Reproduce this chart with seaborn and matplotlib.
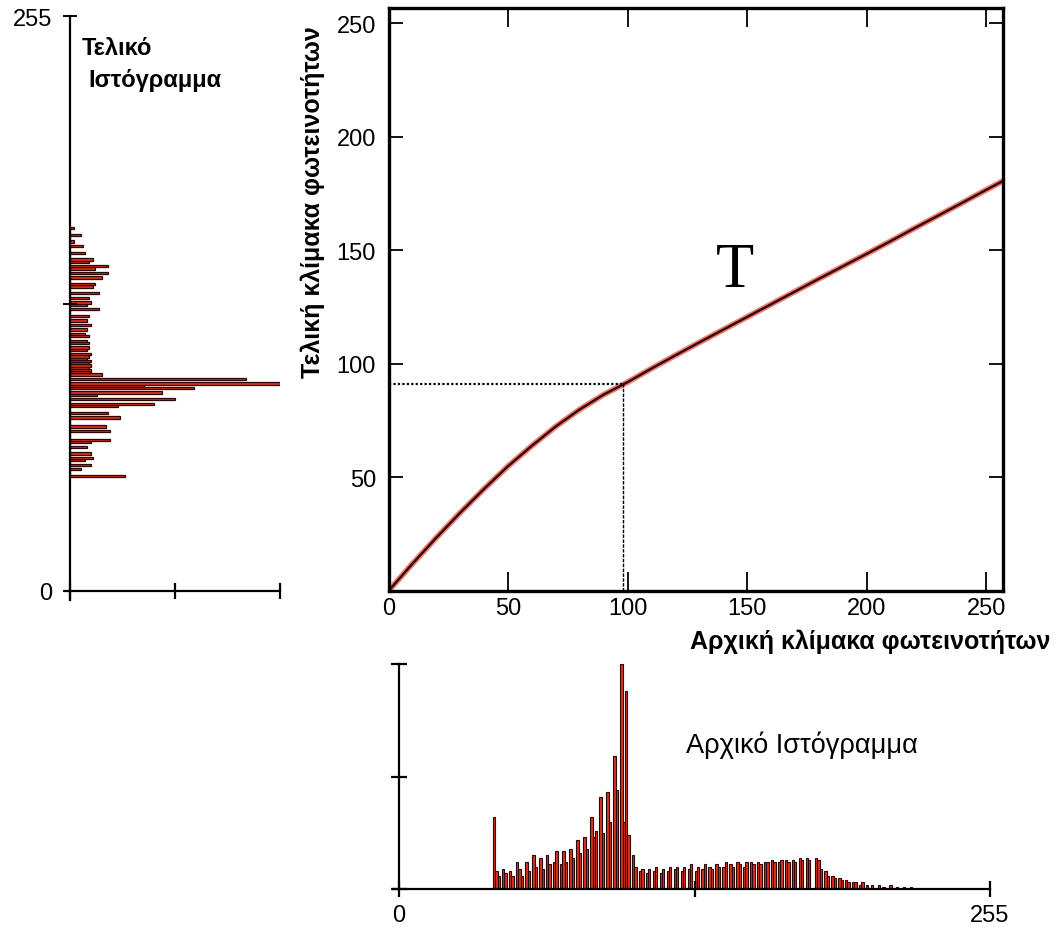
import matplotlib
matplotlib.use("Agg")
import matplotlib.pyplot as plt
import seaborn as sns

plt.rcParams['font.family'] = ['Liberation Sans', 'DejaVu Sans']

# Transfer function T: initial brightness level -> final brightness level
curve_in = [0, 10, 20, 30, 40, 50, 60, 70, 80, 90, 100, 110, 120, 130,
            140, 150, 160, 170, 180, 190, 200, 210, 220, 230, 240, 250, 257]
curve_out = [0, 12, 23.5, 34.5, 45, 55, 64, 72.5, 80, 86.5, 92, 98, 103.8, 109.5,
             115.1, 120.7, 126.3, 131.9, 137.5, 143, 148.5, 154.1, 159.8, 165.4, 171, 176.7, 180.6]

# Example level marked on the curve
ref_in, ref_out = 98, 91

# Initial histogram: counts per brightness level, levels 40..222
initial_levels = list(range(40, 223))
initial_counts = [
    0, 32, 8, 6, 0, 9, 7, 0, 8, 6,         # 40-49
    0, 12, 9, 6, 0, 12, 8, 0, 15, 10,      # 50-59
    0, 14, 9, 0, 15, 11, 0, 12, 17, 0,     # 60-69
    11, 17, 12, 0, 18, 14, 0, 22, 16, 0,   # 70-79
    23, 18, 0, 32, 23, 26, 0, 41, 25, 0,   # 80-89
    43, 30, 0, 59, 44, 0, 100, 30, 88, 24, # 90-99
    0, 15, 10, 0, 8, 9, 0, 7, 9, 0,        # 100-109
    8, 10, 0, 7, 9, 0, 8, 10, 0, 9,        # 110-119
    10, 0, 8, 10, 0, 9, 11, 0, 8, 10,      # 120-129
    0, 9, 11, 0, 10, 9, 0, 11, 10, 0,      # 130-139
    10, 12, 0, 11, 10, 0, 12, 11, 0, 10,   # 140-149
    12, 0, 12, 11, 0, 12, 11, 0, 12, 12,   # 150-159
    0, 13, 12, 0, 12, 13, 0, 13, 12, 0,    # 160-169
    13, 12, 0, 14, 13, 0, 14, 13, 0, 0,    # 170-179
    14, 13, 9, 0, 8, 6, 0, 6, 5, 0,        # 180-189
    5, 4, 0, 4, 3, 0, 3, 3, 0, 2,          # 190-199
    3, 0, 2, 0, 2, 0, 0, 2, 0, 1,          # 200-209
    0, 0, 2, 0, 0, 1, 0, 0, 1, 0,          # 210-219
    0, 1, 0,                               # 220-222
]

# Final histogram: counts per brightness level after applying T
final_levels = [51, 54, 56, 58, 59, 61, 64, 66, 67, 71, 73, 77, 79, 82, 83,
                85, 87, 88, 90, 91, 92, 94, 96, 97, 98, 99, 100, 101, 102, 103,
                104, 105, 107, 108, 110, 111, 113, 114, 116, 118, 120, 122, 125,
                127, 128, 130, 132, 135, 136, 139, 141, 143, 144, 146, 147, 150,
                153, 155, 158, 161]
final_counts = [26, 5, 10, 7, 11, 10, 8, 10, 19, 19, 17, 24, 18, 23, 40,
                50, 13, 44, 59, 35, 100, 84, 15, 10, 10, 9, 10, 9, 10, 8,
                9, 10, 8, 9, 9, 8, 9, 7, 8, 10, 8, 9, 14,
                8, 10, 9, 14, 11, 12, 15, 18, 12, 18, 9, 11, 7,
                6, 2, 5, 2]

main_ticks = [0, 50, 100, 150, 200, 250]
hist_level_ticks = [0, 127.5, 255]
hist_level_labels = ['0', '', '255']
hist_count_ticks = [0, 50, 100]

bar_face = '#d9321f'
bar_edge = '#2e0606'

W, H = 1057, 929
fig = plt.figure(figsize=(W / 100, H / 100), dpi=100)
fig.patch.set_facecolor('white')


def axes_px(left, top, right, bottom):
    return fig.add_axes([left / W, 1 - bottom / H, (right - left) / W, (bottom - top) / H])


# ---- main transfer curve ----
ax = axes_px(388.5, 8.5, 1003, 592)
sns.lineplot(x=curve_in, y=curve_out, ax=ax, color='#e8574a', linewidth=4.2, alpha=0.75)
sns.lineplot(x=curve_in, y=curve_out, ax=ax, color='#3b0a08', linewidth=1.8)
ax.plot([0, ref_in], [ref_out, ref_out], color='black', linestyle=(0, (1, 1)), linewidth=1.6)
ax.plot([ref_in, ref_in], [0, ref_out], color='black', linestyle=(0, (2.5, 1)), linewidth=1.0)
ax.set_xlim(0, 257)
ax.set_ylim(0, 257)
ax.set_xticks(main_ticks)
ax.set_yticks(main_ticks[1:])
for s in ax.spines.values():
    s.set_linewidth(2.4)
    s.set_color('black')
ax.tick_params(axis='x', direction='in', length=14, width=1.3, top=True, pad=4, labelsize=17)
ax.tick_params(axis='y', direction='in', length=10, width=1.3, right=True, pad=9, labelsize=17)
ax.set_xlabel('Αρχική κλίμακα φωτεινοτήτων', fontsize=18, fontweight='bold', va='center')
ax.xaxis.set_label_coords(0.784, -0.086)
ax.set_ylabel('Τελική κλίμακα φωτεινοτήτων', fontsize=18, fontweight='bold', va='center')
ax.yaxis.set_label_coords(-0.124, 0.668)
ax.text(145, 141, 'T', family=['Liberation Serif', 'DejaVu Serif'], fontsize=45,
        ha='center', va='center')

# ---- final histogram (left, horizontal bars) ----
axl = axes_px(70, 17, 280, 592)
sns.histplot(y=final_levels, weights=final_counts, discrete=True, ax=axl,
             color=bar_face, edgecolor=bar_edge, linewidth=0.9, alpha=1)
axl.set_xlim(0, 100)
axl.set_ylim(0, 255)
axl.set_xlabel('')
axl.set_ylabel('')
axl.spines[['top', 'right']].set_visible(False)
axl.spines['left'].set_bounds(-4, 255)
axl.spines['bottom'].set_bounds(-2.4, 100)
for s in ('left', 'bottom'):
    axl.spines[s].set_linewidth(1.6)
axl.set_xticks(hist_count_ticks)
axl.set_xticklabels([])
axl.set_yticks(hist_level_ticks)
axl.set_yticklabels(hist_level_labels)
axl.tick_params(axis='x', direction='inout', length=12, width=1.6)
axl.tick_params(axis='y', direction='inout', length=10, width=1.4, pad=8, labelsize=17)
axl.text(0.057, 0.946, 'Τελικό', transform=axl.transAxes, fontsize=17,
         fontweight='bold', ha='left', va='center')
axl.text(0.086, 0.890, 'Ιστόγραμμα', transform=axl.transAxes, fontsize=17,
         fontweight='bold', ha='left', va='center')

# ---- initial histogram (bottom) ----
axb = axes_px(399, 665, 990, 890)
sns.histplot(x=initial_levels, weights=initial_counts, discrete=True, ax=axb,
             color=bar_face, edgecolor=bar_edge, linewidth=0.8, alpha=1)
axb.set_xlim(0, 255)
axb.set_ylim(0, 100)
axb.set_xlabel('')
axb.set_ylabel('')
axb.spines[['top', 'right']].set_visible(False)
axb.spines['bottom'].set_bounds(-2.6, 255)
for s in ('left', 'bottom'):
    axb.spines[s].set_linewidth(1.6)
axb.set_xticks(hist_level_ticks)
axb.set_xticklabels(hist_level_labels)
axb.set_yticks(hist_count_ticks)
axb.set_yticklabels([])
axb.tick_params(axis='x', direction='inout', length=12, width=1.6, pad=5, labelsize=17)
axb.tick_params(axis='y', direction='inout', length=12, width=1.6)
axb.text(0.681, 0.644, 'Αρχικό Ιστόγραμμα', transform=axb.transAxes, fontsize=19.5,
         ha='center', va='center')

fig.savefig('out.png', dpi=100, facecolor='white')
